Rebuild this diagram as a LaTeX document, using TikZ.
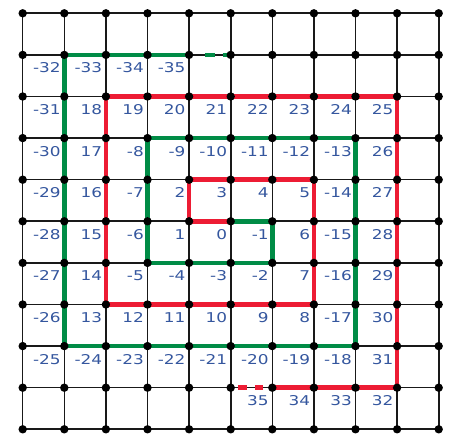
\documentclass[tikz,border=0pt]{standalone}
\usepackage{fontspec}
\newfontfamily\lblfont[FakeStretch=1.25]{DejaVu Sans}
\definecolor{pathred}{RGB}{237,28,52}
\definecolor{pathgreen}{RGB}{0,140,70}
\definecolor{lblblue}{RGB}{52,86,158}
\begin{document}
\begin{tikzpicture}[x=41.6pt,y=-41.6pt,
  gridline/.style={line width=1.6pt, black!90},
  redpath/.style={line width=4.5pt, pathred, line join=miter},
  greenpath/.style={line width=4.5pt, pathgreen, line join=miter},
  vdot/.style={circle, fill=black, inner sep=0pt, minimum size=8.4pt},
  lbl/.style={anchor=base east, inner sep=0pt, text=lblblue,
    font=\lblfont\fontsize{13.5}{16}\selectfont, xshift=-3.5pt, yshift=-18pt}]
\useasboundingbox (-22.7pt,13.3pt) rectangle (435.3pt,-429.7pt);
\foreach \i in {0,...,10}{\foreach \j in {0,...,10}{\coordinate (v\i-\j) at (\i,\j);}}
\foreach \k in {0,...,10}{
  \draw[gridline] (v\k-0) -- (v\k-10);
  \draw[gridline] (v0-\k) -- (v10-\k);
}
\draw[redpath] (v5-5) -- (v4-5) -- (v4-4) -- (v7-4) -- (v7-7) -- (v2-7) -- (v2-2) -- (v9-2) -- (v9-9) -- (v6-9);
\draw[redpath, dash pattern=on 8.5pt off 8pt on 8.5pt off 20pt, dash phase=37.4pt] (v5-9) -- (v6-9);
\draw[greenpath] (v5-5) -- (v6-5) -- (v6-6) -- (v3-6) -- (v3-3) -- (v8-3) -- (v8-8) -- (v1-8) -- (v1-1) -- (v4-1);
\draw[greenpath, dash pattern=on 10pt off 7.7pt on 12pt off 20pt, dash phase=34pt] (v4-1) -- (v5-1);
\foreach \i in {0,...,10}{\foreach \j in {0,...,10}{\node[vdot] (d\i-\j) at (v\i-\j) {};}}
\foreach \c/\r/\t in {1/1/-32,2/1/-33,3/1/-34,4/1/-35,
  1/2/-31,2/2/18,3/2/19,4/2/20,5/2/21,6/2/22,7/2/23,8/2/24,9/2/25,
  1/3/-30,2/3/17,3/3/-8,4/3/-9,5/3/-10,6/3/-11,7/3/-12,8/3/-13,9/3/26,
  1/4/-29,2/4/16,3/4/-7,4/4/2,5/4/3,6/4/4,7/4/5,8/4/-14,9/4/27,
  1/5/-28,2/5/15,3/5/-6,4/5/1,5/5/0,6/5/-1,7/5/6,8/5/-15,9/5/28,
  1/6/-27,2/6/14,3/6/-5,4/6/-4,5/6/-3,6/6/-2,7/6/7,8/6/-16,9/6/29,
  1/7/-26,2/7/13,3/7/12,4/7/11,5/7/10,6/7/9,7/7/8,8/7/-17,9/7/30,
  1/8/-25,2/8/-24,3/8/-23,4/8/-22,5/8/-21,6/8/-20,7/8/-19,8/8/-18,9/8/31,
  6/9/35,7/9/34,8/9/33,9/9/32}{
  \node[lbl] (n\c-\r) at (v\c-\r) {\t};
}
\end{tikzpicture}
\end{document}
